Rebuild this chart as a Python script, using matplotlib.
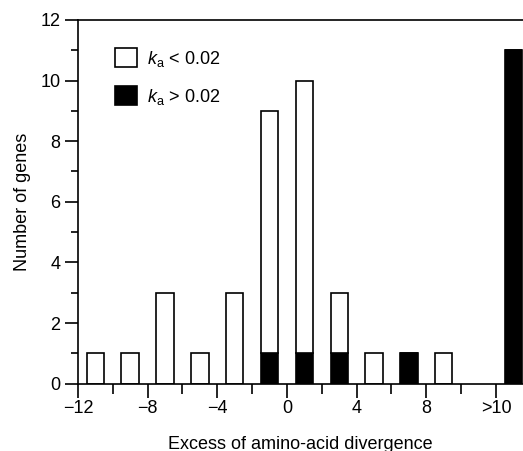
import numpy as np
import matplotlib
matplotlib.use("Agg")
from matplotlib import pyplot as plt
from matplotlib.patches import Patch

plt.rcParams['font.family'] = ['Liberation Sans', 'DejaVu Sans']
plt.rcParams['mathtext.fontset'] = 'custom'
plt.rcParams['mathtext.rm'] = 'Liberation Sans'
plt.rcParams['mathtext.it'] = 'Liberation Sans:italic'

# bin centres; the last bin is the ">10" class
bin_centres = [-11, -9, -7, -5, -3, -1, 1, 3, 5, 7, 9, 13]
low_ka = [1, 1, 3, 1, 3, 8, 9, 2, 1, 0, 1, 0]    # k_a < 0.02
high_ka = [0, 0, 0, 0, 0, 1, 1, 1, 0, 1, 0, 11]  # k_a > 0.02

xtick_pos = [-12, -8, -4, 0, 4, 8, 12]
xtick_labels = ['\u221212', '\u22128', '\u22124', '0', '4', '8', '>10']

fs = 13
fig = plt.figure(figsize=(5.23, 4.51), dpi=100)
ax = fig.add_axes([0.149, 0.149, 0.851, 0.807])

lw = 1.2
ax.bar(bin_centres, high_ka, width=1.0, color='black', edgecolor='black', linewidth=lw)
ax.bar(bin_centres, low_ka, width=1.0, bottom=high_ka, color='white',
       edgecolor='black', linewidth=lw)

ax.set_xlim(-12, 13.55)
ax.set_ylim(0, 12)

ax.set_xticks(xtick_pos)
ax.set_xticklabels(xtick_labels)
ax.set_xticks(np.arange(-10, 11, 4), minor=True)
ax.set_yticks(np.arange(0, 13, 2))
ax.set_yticks(np.arange(1, 12, 2), minor=True)

ax.tick_params(axis='both', which='both', direction='out', width=lw, labelsize=fs)
ax.tick_params(axis='x', which='major', length=10, pad=2)
ax.tick_params(axis='x', which='minor', length=7.5)
ax.tick_params(axis='y', which='major', length=9.5, pad=3)
ax.tick_params(axis='y', which='minor', length=5)

for side in ['left', 'bottom', 'top']:
    ax.spines[side].set_linewidth(lw)
ax.spines['right'].set_visible(False)

ax.set_xlabel('Excess of amino-acid divergence', fontsize=fs, labelpad=13)
ax.set_ylabel('Number of genes', fontsize=fs, labelpad=7)

handles = [Patch(facecolor='white', edgecolor='black', linewidth=lw),
           Patch(facecolor='black', edgecolor='black', linewidth=lw)]
labels = [r'$k_{\mathrm{a}}$ < 0.02', r'$k_{\mathrm{a}}$ > 0.02']
ax.legend(handles, labels, loc='upper left', bbox_to_anchor=(0.083, 0.922),
          frameon=False, fontsize=fs, handlelength=1.2, handleheight=1.25,
          handletextpad=0.6, labelspacing=0.95, borderpad=0, borderaxespad=0)

fig.savefig('out.png', dpi=100)
